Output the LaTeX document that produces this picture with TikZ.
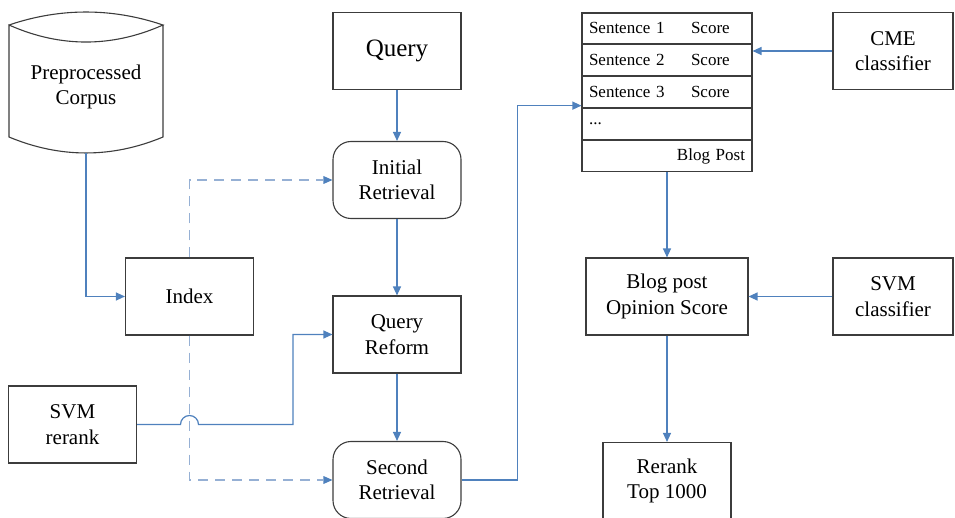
\documentclass[tikz,border=0pt]{standalone}
\usepackage{fontspec}
\setmainfont{Liberation Serif}
\usetikzlibrary{arrows.meta,positioning,calc}
\definecolor{linkblue}{RGB}{79,129,189}
\definecolor{dashblue}{RGB}{150,176,212}
\definecolor{boxgray}{RGB}{60,60,60}
\tikzset{
  box/.style={draw=boxgray,line width=1.1pt,minimum width=128pt,minimum height=77pt,
    inner sep=2pt,align=center,font=\fontsize{21}{25.5}\selectfont},
  roundbox/.style={box,rounded corners=18pt},
  row/.style={draw=boxgray,line width=1.1pt,minimum width=170pt,minimum height=30.8pt,
    text width=156pt,inner xsep=7pt,inner ysep=0pt,align=left,font=\fontsize{17}{20}\selectfont},
  link/.style={draw=linkblue,line width=1.2pt,-{Triangle[length=9pt,width=8pt]}},
  dashlink/.style={draw=dashblue,line width=1.8pt,dash pattern=on 10pt off 7pt,
    -{Triangle[length=9pt,width=8pt,color=linkblue,line width=0pt]}},
}
\begin{document}
\begin{tikzpicture}[x=1pt,y=-1pt]
        \path[use as bounding box,clip] (0,0) rectangle (955,518);
        %% corpus
        \node[font=\fontsize{21}{25.5}\selectfont,align=center] (corpus) at (86,87) {Preprocessed\\Corpus};
        \draw[boxgray,line width=1.1pt] (9,25) .. controls (60,7.7) and (112,7.7) .. (163,25)
            .. controls (112,47.7) and (60,47.7) .. (9,25) -- (9,137)
            .. controls (60,158.3) and (112,158.3) .. (163,137) -- (163,25);
        \coordinate (corpusfoot) at (86,153);
        %% retrieval chain
        \node[box,font=\fontsize{25}{30}\selectfont] (query) at (397,51) {Query};
        \node[roundbox] (initial) at (397,180) {Initial\\Retrieval};
        \node[box] (reform) at (397,334.5) {Query\\Reform};
        \node[roundbox] (second) at (397,480) {Second\\Retrieval};
        \node[box] (index) at (189.5,296.5) {Index};
        \node[box] (svmrerank) at (72.5,424.5) {SVM\\rerank};
        \coordinate (bend) at (293,424.5);
        %% blog post table
        \node[row] (sent1) at (667,28.4) {\makebox[102pt][l]{Sentence 1}Score};
        \node[row,below=0pt of sent1] (sent2) {\makebox[102pt][l]{Sentence 2}Score};
        \node[row,below=0pt of sent2] (sent3) {\makebox[102pt][l]{Sentence 3}Score};
        \node[row,below=0pt of sent3] (dots) {...};
        \node[row,below=0pt of dots,align=right] (blogpost) {Blog Post\hspace*{9pt}};
        %% scoring
        \node[box,minimum width=120pt] (cme) at (893,51) {CME\\classifier};
        \node[box,minimum width=162pt] (opinion) at (667,296.5) {Blog post\\Opinion Score};
        \node[box,minimum width=120pt] (svmclass) at (893,296.5) {SVM\\classifier};
        \node[box] (rerank) at (667,481) {Rerank\\Top 1000};
        %% links
        \draw[link] (corpusfoot) |- (index);
        \draw[dashlink] (index) |- (initial);
        \draw[dashlink] (index) |- (second);
        \draw[link] (query) -- (initial);
        \draw[link] (initial) -- (reform);
        \draw[link] (reform) -- (second);
        \draw[link] (svmrerank.east) -- ($(index.south |- svmrerank.east)+(-9pt,0)$)
            arc[start angle=180,end angle=0,radius=9pt] -- (bend) |- (reform.west);
        \draw[link] (second.east) -- ++(56,0) |- ([yshift=2.5pt]sent3.south west);
        \draw[link] (cme) -- (cme.west -| sent2.east);
        \draw[link] (blogpost.south) -- (blogpost.south |- opinion.north);
        \draw[link] (svmclass) -- (opinion);
        \draw[link] (opinion) -- (rerank);
    \end{tikzpicture}
\end{document}
